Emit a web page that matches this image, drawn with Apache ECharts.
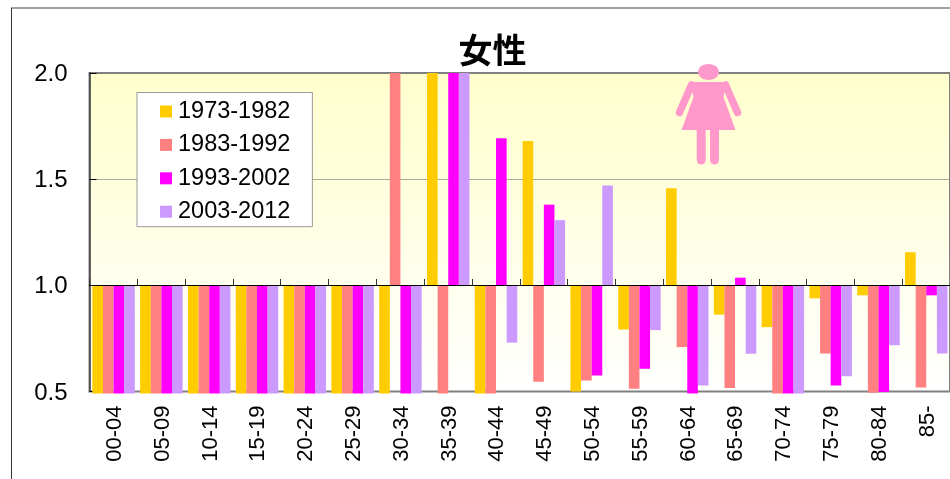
<!DOCTYPE html>
<html>
<head>
<meta charset="utf-8">
<title>女性</title>
<style>
  html, body { margin: 0; padding: 0; background: #fff; overflow: hidden; }
  #chart { width: 950px; height: 479px; }
</style>
<script src="https://cdn.jsdelivr.net/npm/echarts@6/dist/echarts.min.js"></script>
</head>
<body>
<div id="chart"></div>
<script>
const ageGroups = ['00-04', '05-09', '10-14', '15-19', '20-24', '25-29', '30-34', '35-39', '40-44',
  '45-49', '50-54', '55-59', '60-64', '65-69', '70-74', '75-79', '80-84', '85-'];

// values under 0.5 run slightly past the axis in the reference
const period1 = [0.49, 0.49, 0.49, 0.49, 0.49, 0.49, 0.49, 2.0, 0.49, 1.68, 0.5, 0.792, 1.457, 0.862, 0.803, 0.939, 0.953, 1.156];
const period2 = [0.49, 0.49, 0.49, 0.49, 0.49, 0.49, 2.0, 0.49, 0.49, 0.546, 0.552, 0.513, 0.709, 0.516, 0.49, 0.679, 0.494, 0.519];
const period3 = [0.49, 0.49, 0.49, 0.49, 0.49, 0.49, 0.49, 2.0, 1.693, 1.38, 0.575, 0.607, 0.49, 1.036, 0.49, 0.528, 0.498, 0.953];
const period4 = [0.49, 0.49, 0.49, 0.49, 0.49, 0.49, 0.49, 2.0, 0.73, 1.307, 1.47, 0.789, 0.528, 0.678, 0.49, 0.572, 0.718, 0.679];

const periodNames = ['1973-1982', '1983-1992', '1993-2002', '2003-2012'];
const periodValues = [period1, period2, period3, period4];
const periodColors = ['#FFCC00', '#FF8080', '#FF00FF', '#CC99FF'];

const baseLine = 1; // bars grow from 1.0, not from 0
const font = '"Liberation Sans", Arial, sans-serif';
const pink = '#FF99CC';

const chart = echarts.init(document.getElementById('chart'));

function barSeries(name, index) {
  return {
    name: name,
    type: 'custom',
    xAxisIndex: 0,
    yAxisIndex: 0,
    clip: false,
    z: 2,
    itemStyle: { color: periodColors[index] },
    encode: { x: 0, y: 1 },
    data: periodValues[index].map((v, i) => [i, v]),
    renderItem: function (params, api) {
      const end = api.coord([api.value(0), api.value(1)]);
      const start = api.coord([api.value(0), baseLine]);
      const band = api.size([1, 0])[0];
      const w = band * 0.222;
      const x = end[0] - band * 0.44 + w * index;
      return {
        type: 'rect',
        shape: { x: x, y: Math.min(start[1], end[1]), width: w, height: Math.abs(end[1] - start[1]) },
        style: { fill: periodColors[index] }
      };
    }
  };
}

// silhouette in the top of the plot
const figure = [
  { type: 'ellipse', shape: { cx: 708.5, cy: 72, rx: 10.5, ry: 8 } },
  { type: 'polygon', shape: { points: [[690, 82], [727, 82], [723.5, 97], [735.5, 130], [681.5, 130], [693.5, 97]] } },
  { type: 'line', shape: { x1: 691.5, y1: 85, x2: 679.5, y2: 112.5 }, stroke: 7.5 },
  { type: 'line', shape: { x1: 725.5, y1: 85, x2: 737.5, y2: 112.5 }, stroke: 7.5 },
  { type: 'line', shape: { x1: 701.2, y1: 128, x2: 701.2, y2: 160 }, stroke: 9 },
  { type: 'line', shape: { x1: 714.5, y1: 128, x2: 714.5, y2: 160 }, stroke: 9 }
].map(function (p) {
  const style = p.stroke
    ? { stroke: pink, lineWidth: p.stroke, lineCap: 'round' }
    : { fill: pink };
  return { type: p.type, shape: p.shape, style: style, z: 20 };
});

const option = {
  animation: false,
  backgroundColor: '#fff',
  title: {
    text: '女性',
    left: 492.5,
    top: 33,
    textAlign: 'center',
    padding: 0,
    textStyle: { fontFamily: '"Noto Sans CJK JP"', fontWeight: 'bold', fontSize: 34, color: '#000' }
  },
  legend: {
    orient: 'vertical',
    left: 137,
    top: 92.5,
    padding: [6, 22, 2, 23],
    itemGap: 7.4,
    itemWidth: 12,
    itemHeight: 12,
    icon: 'rect',
    backgroundColor: '#fff',
    borderColor: '#999',
    borderWidth: 1,
    selectedMode: false,
    z: 10,
    textStyle: { fontFamily: font, fontSize: 23.5, color: '#000', lineHeight: 26, padding: [0, 0, 0, 1] },
    data: periodNames
  },
  grid: {
    show: true,
    left: 89.5,
    top: 73,
    width: 862,
    height: 318.5,
    borderColor: '#808080',
    borderWidth: 2,
    backgroundColor: new echarts.graphic.LinearGradient(0, 0, 0, 1, [
      { offset: 0, color: '#FFFFCC' },
      { offset: 1, color: '#FFFFFF' }
    ])
  },
  xAxis: [
    {
      type: 'category',
      data: ageGroups,
      position: 'bottom',
      axisLine: { show: false },
      axisTick: { show: false },
      axisLabel: {
        interval: 0,
        rotate: 90,
        margin: 14,
        verticalAlign: 'top',
        lineHeight: 3,
        fontFamily: font,
        fontSize: 22,
        color: '#000'
      }
    },
    {
      // the black line at 1.0, 106 px above the bottom edge
      type: 'category',
      data: ageGroups,
      position: 'bottom',
      offset: -106.5,
      z: 3,
      axisLine: { show: true, onZero: false, lineStyle: { color: '#000', width: 1 } },
      axisTick: { show: true, inside: true, length: 6, interval: 0, lineStyle: { color: '#333', width: 1 } },
      axisLabel: { show: false }
    }
  ],
  yAxis: {
    type: 'value',
    min: 0.5,
    max: 2.0,
    interval: 0.5,
    axisLine: { show: true, onZero: false, lineStyle: { color: '#444', width: 1.5 } },
    axisTick: { show: true, inside: true, length: 7, lineStyle: { color: '#000', width: 1 } },
    axisLabel: {
      margin: 22,
      verticalAlign: 'top',
      lineHeight: 3,
      fontFamily: font,
      fontSize: 24,
      color: '#000',
      formatter: function (v) { return v.toFixed(1); }
    },
    splitLine: {
      show: true,
      showMinLine: false,
      showMaxLine: false,
      lineStyle: { color: '#555', width: 1, type: 'dotted' }
    }
  },
  series: periodNames.map(barSeries),
  graphic: [
    { type: 'line', shape: { x1: 11, y1: 8, x2: 950, y2: 8 }, style: { stroke: '#808080', lineWidth: 1.5 }, z: 1 },
    { type: 'line', shape: { x1: 11.5, y1: 8, x2: 11.5, y2: 479 }, style: { stroke: '#333', lineWidth: 1 }, z: 1 }
  ].concat(figure)
};

chart.setOption(option);
window.addEventListener('resize', function () {
  chart.resize();
});
</script>
</body>
</html>
